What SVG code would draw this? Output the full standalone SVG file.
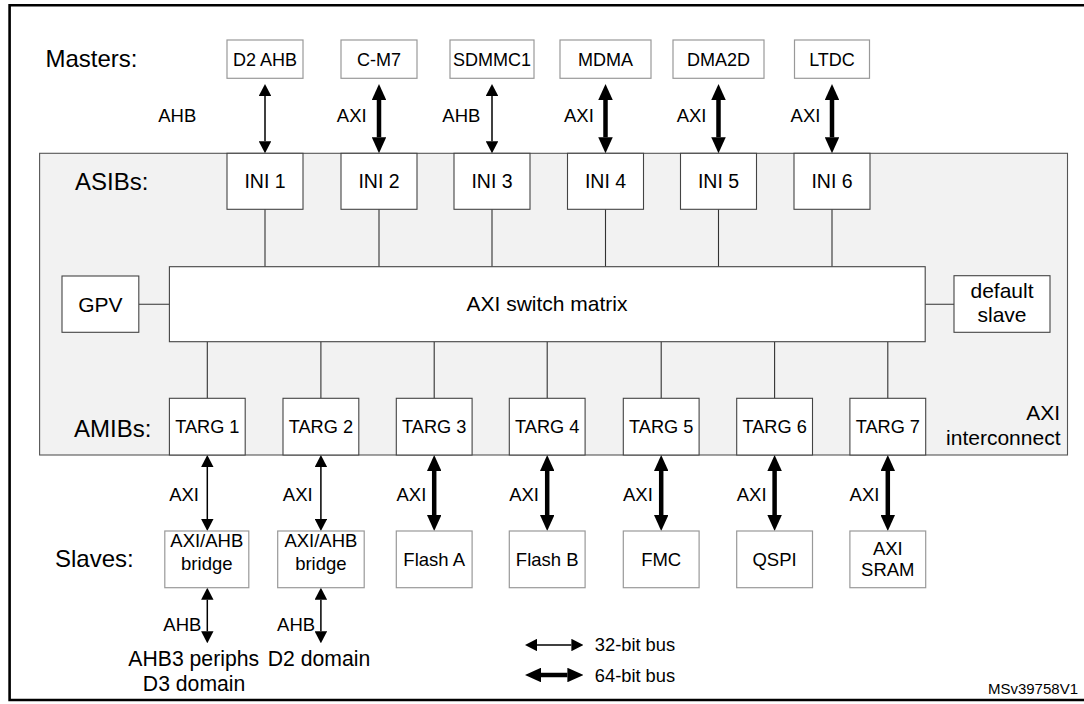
<svg xmlns="http://www.w3.org/2000/svg" width="1084" height="704" viewBox="0 0 1084 704">
<style>
text{font-family:"Liberation Sans",Arial,sans-serif;fill:#000}
.hdr{font-size:24px}
.mb{font-size:18px;text-anchor:middle}
.ib{font-size:19.5px;text-anchor:middle}
.tb{font-size:18.2px;text-anchor:middle}
.bl{font-size:18.5px;text-anchor:end}
.big{font-size:21px;text-anchor:middle}
.dom{font-size:21.2px;text-anchor:middle}
.sb{font-size:18.5px;text-anchor:middle}
.ext{fill:#fff;stroke:#999;stroke-width:1.2}
.int{fill:#fff;stroke:#444;stroke-width:1.1}
.ln{stroke:#333;stroke-width:1.1;fill:none}
.thin{stroke:#000;stroke-width:1.5;fill:none;marker-start:url(#ah);marker-end:url(#ah)}
.thick{stroke:#000;stroke-width:4.5;fill:none;marker-start:url(#ahb);marker-end:url(#ahb)}
</style>
<defs>
<marker id="ah" markerUnits="userSpaceOnUse" markerWidth="12" markerHeight="12.4" refX="0" refY="6.2" orient="auto-start-reverse"><path d="M0,0 L12,6.2 L0,12.4 z" fill="#000"/></marker>
<marker id="ahb" markerUnits="userSpaceOnUse" markerWidth="16" markerHeight="14.5" refX="0" refY="7.25" orient="auto-start-reverse"><path d="M0,0 L16,7.25 L0,14.5 z" fill="#000"/></marker>
</defs>
<rect width="1084" height="704" fill="#fff"/>
<g id="frame" stroke="#000" stroke-width="2.6" fill="none">
<path d="M1084,5.3 H9.6 V700 H1084"/>
</g>
<g id="interconnect">
<rect x="39.6" y="153.3" width="1027.9" height="301.7" fill="#f2f2f2" stroke="#555" stroke-width="1.1"/>
<text x="1060" y="420" style="font-size:21px;text-anchor:end">AXI</text>
<text x="1060.5" y="445" style="font-size:21px;text-anchor:end">interconnect</text>
</g>
<g id="section-labels">
<text class="hdr" x="45.5" y="66.7">Masters:</text>
<text class="hdr" x="75" y="190">ASIBs:</text>
<text class="hdr" x="74" y="436.7">AMIBs:</text>
<text class="hdr" x="55" y="566.7">Slaves:</text>
</g>
<g id="connectors">
<line class="thin" x1="265" y1="96" x2="265" y2="141.3"/>
<line class="thick" x1="379" y1="100" x2="379" y2="137.3"/>
<line class="thin" x1="492" y1="96" x2="492" y2="141.3"/>
<line class="thick" x1="605.5" y1="100" x2="605.5" y2="137.3"/>
<line class="thick" x1="718.5" y1="100" x2="718.5" y2="137.3"/>
<line class="thick" x1="832" y1="100" x2="832" y2="137.3"/>
<path class="ln" d="M265,209.3 V266.7 M379,209.3 V266.7 M492,209.3 V266.7 M605.5,209.3 V266.7 M718.5,209.3 V266.7 M832,209.3 V266.7"/>
<path class="ln" d="M138.8,304.3 H169.4 M925.2,304.3 H954"/>
<path class="ln" d="M207.3,341.7 V398.3 M320.9,341.7 V398.3 M434.2,341.7 V398.3 M547.2,341.7 V398.3 M661.2,341.7 V398.3 M774.6,341.7 V398.3 M887.8,341.7 V398.3"/>
<line class="thin" x1="207.3" y1="467" x2="207.3" y2="519"/>
<line class="thin" x1="320.9" y1="467" x2="320.9" y2="519"/>
<line class="thick" x1="434.2" y1="471" x2="434.2" y2="515"/>
<line class="thick" x1="547.2" y1="471" x2="547.2" y2="515"/>
<line class="thick" x1="661.2" y1="471" x2="661.2" y2="515"/>
<line class="thick" x1="774.6" y1="471" x2="774.6" y2="515"/>
<line class="thick" x1="887.8" y1="471" x2="887.8" y2="515"/>
<line class="thin" x1="207.3" y1="599.7" x2="207.3" y2="631.3"/>
<line class="thin" x1="320.9" y1="599.7" x2="320.9" y2="631.3"/>
<line class="thin" x1="537" y1="645" x2="571.4" y2="645"/>
<line class="thick" x1="541" y1="675" x2="567.4" y2="675"/>
</g>
<g id="bus-labels">
<text class="bl" x="196.3" y="121.6">AHB</text>
<text class="bl" x="366.7" y="121.6">AXI</text>
<text class="bl" x="480.4" y="121.6">AHB</text>
<text class="bl" x="593.8" y="121.6">AXI</text>
<text class="bl" x="706.5" y="121.6">AXI</text>
<text class="bl" x="820.4" y="121.6">AXI</text>
<text class="bl" x="199" y="500.9">AXI</text>
<text class="bl" x="312.7" y="500.9">AXI</text>
<text class="bl" x="426.3" y="500.9">AXI</text>
<text class="bl" x="539" y="500.9">AXI</text>
<text class="bl" x="652.8" y="500.9">AXI</text>
<text class="bl" x="766.6" y="500.9">AXI</text>
<text class="bl" x="879.4" y="500.9">AXI</text>
<text class="bl" x="201.4" y="630.9">AHB</text>
<text class="bl" x="315.1" y="630.9">AHB</text>
</g>
<g id="m-d2ahb"><rect class="ext" x="227" y="40" width="76" height="38.3"/><text class="mb" x="265" y="65.5">D2 AHB</text></g>
<g id="m-cm7"><rect class="ext" x="341" y="40" width="76" height="38.3"/><text class="mb" x="379" y="65.5">C-M7</text></g>
<g id="m-sdmmc1"><rect class="ext" x="450" y="40" width="84" height="38.3"/><text class="mb" x="492" y="65.5">SDMMC1</text></g>
<g id="m-mdma"><rect class="ext" x="560" y="40" width="91" height="38.3"/><text class="mb" x="605.5" y="65.5">MDMA</text></g>
<g id="m-dma2d"><rect class="ext" x="673" y="40" width="91" height="38.3"/><text class="mb" x="718.5" y="65.5">DMA2D</text></g>
<g id="m-ltdc"><rect class="ext" x="794.5" y="40" width="75" height="38.3"/><text class="mb" x="832" y="65.5">LTDC</text></g>
<g id="ini1"><rect class="int" x="227" y="153.3" width="76" height="56"/><text class="ib" x="265" y="188.3">INI 1</text></g>
<g id="ini2"><rect class="int" x="341" y="153.3" width="76" height="56"/><text class="ib" x="379" y="188.3">INI 2</text></g>
<g id="ini3"><rect class="int" x="454" y="153.3" width="76" height="56"/><text class="ib" x="492" y="188.3">INI 3</text></g>
<g id="ini4"><rect class="int" x="567.5" y="153.3" width="76" height="56"/><text class="ib" x="605.5" y="188.3">INI 4</text></g>
<g id="ini5"><rect class="int" x="680.5" y="153.3" width="76" height="56"/><text class="ib" x="718.5" y="188.3">INI 5</text></g>
<g id="ini6"><rect class="int" x="794" y="153.3" width="76" height="56"/><text class="ib" x="832" y="188.3">INI 6</text></g>
<g id="switch"><rect class="int" x="169.4" y="266.7" width="755.8" height="75"/><text class="big" x="547" y="311">AXI switch matrix</text></g>
<g id="gpv"><rect class="int" x="62" y="276" width="76.8" height="56.3"/><text class="big" x="100.4" y="311.5">GPV</text></g>
<g id="default-slave"><rect class="int" x="954" y="275.7" width="96" height="56.6"/><text class="big" x="1002" y="298.3">default</text><text class="big" x="1002" y="321.7">slave</text></g>
<g id="targ1"><rect class="int" x="169.4" y="398.3" width="75.8" height="56.7"/><text class="tb" x="207.3" y="433.3">TARG 1</text></g>
<g id="targ2"><rect class="int" x="283" y="398.3" width="75.8" height="56.7"/><text class="tb" x="320.9" y="433.3">TARG 2</text></g>
<g id="targ3"><rect class="int" x="396.3" y="398.3" width="75.8" height="56.7"/><text class="tb" x="434.2" y="433.3">TARG 3</text></g>
<g id="targ4"><rect class="int" x="509.3" y="398.3" width="75.8" height="56.7"/><text class="tb" x="547.2" y="433.3">TARG 4</text></g>
<g id="targ5"><rect class="int" x="623.3" y="398.3" width="75.8" height="56.7"/><text class="tb" x="661.2" y="433.3">TARG 5</text></g>
<g id="targ6"><rect class="int" x="736.7" y="398.3" width="75.8" height="56.7"/><text class="tb" x="774.6" y="433.3">TARG 6</text></g>
<g id="targ7"><rect class="int" x="849.9" y="398.3" width="75.8" height="56.7"/><text class="tb" x="887.8" y="433.3">TARG 7</text></g>
<g id="s-bridge1"><rect class="ext" x="164.8" y="531" width="84" height="56.7"/><text class="sb" x="206.8" y="547.3">AXI/AHB</text><text class="sb" x="206.8" y="570">bridge</text></g>
<g id="s-bridge2"><rect class="ext" x="277.7" y="531" width="86.5" height="56.7"/><text class="sb" x="320.9" y="547.3">AXI/AHB</text><text class="sb" x="320.9" y="570">bridge</text></g>
<g id="s-flasha"><rect class="ext" x="396.3" y="531" width="75.8" height="56.7"/><text class="sb" x="434.2" y="566">Flash A</text></g>
<g id="s-flashb"><rect class="ext" x="509.3" y="531" width="75.8" height="56.7"/><text class="sb" x="547.2" y="566">Flash B</text></g>
<g id="s-fmc"><rect class="ext" x="623.3" y="531" width="75.8" height="56.7"/><text class="sb" x="661.2" y="566">FMC</text></g>
<g id="s-qspi"><rect class="ext" x="736.7" y="531" width="75.8" height="56.7"/><text class="sb" x="774.6" y="566">QSPI</text></g>
<g id="s-sram"><rect class="ext" x="849.9" y="531" width="75.8" height="56.7"/><text class="sb" x="887.8" y="555">AXI</text><text class="sb" x="887.8" y="576">SRAM</text></g>
<g id="domains">
<text class="dom" x="193.7" y="665.7">AHB3 periphs</text>
<text class="dom" x="194.1" y="691">D3 domain</text>
<text class="dom" x="319" y="665.7">D2 domain</text>
</g>
<g id="legend">
<text x="594.8" y="650.7" style="font-size:18.3px">32-bit bus</text>
<text x="594.8" y="681.7" style="font-size:18.3px">64-bit bus</text>
</g>
<text x="1078" y="694" style="font-size:15px;text-anchor:end">MSv39758V1</text>
</svg>
